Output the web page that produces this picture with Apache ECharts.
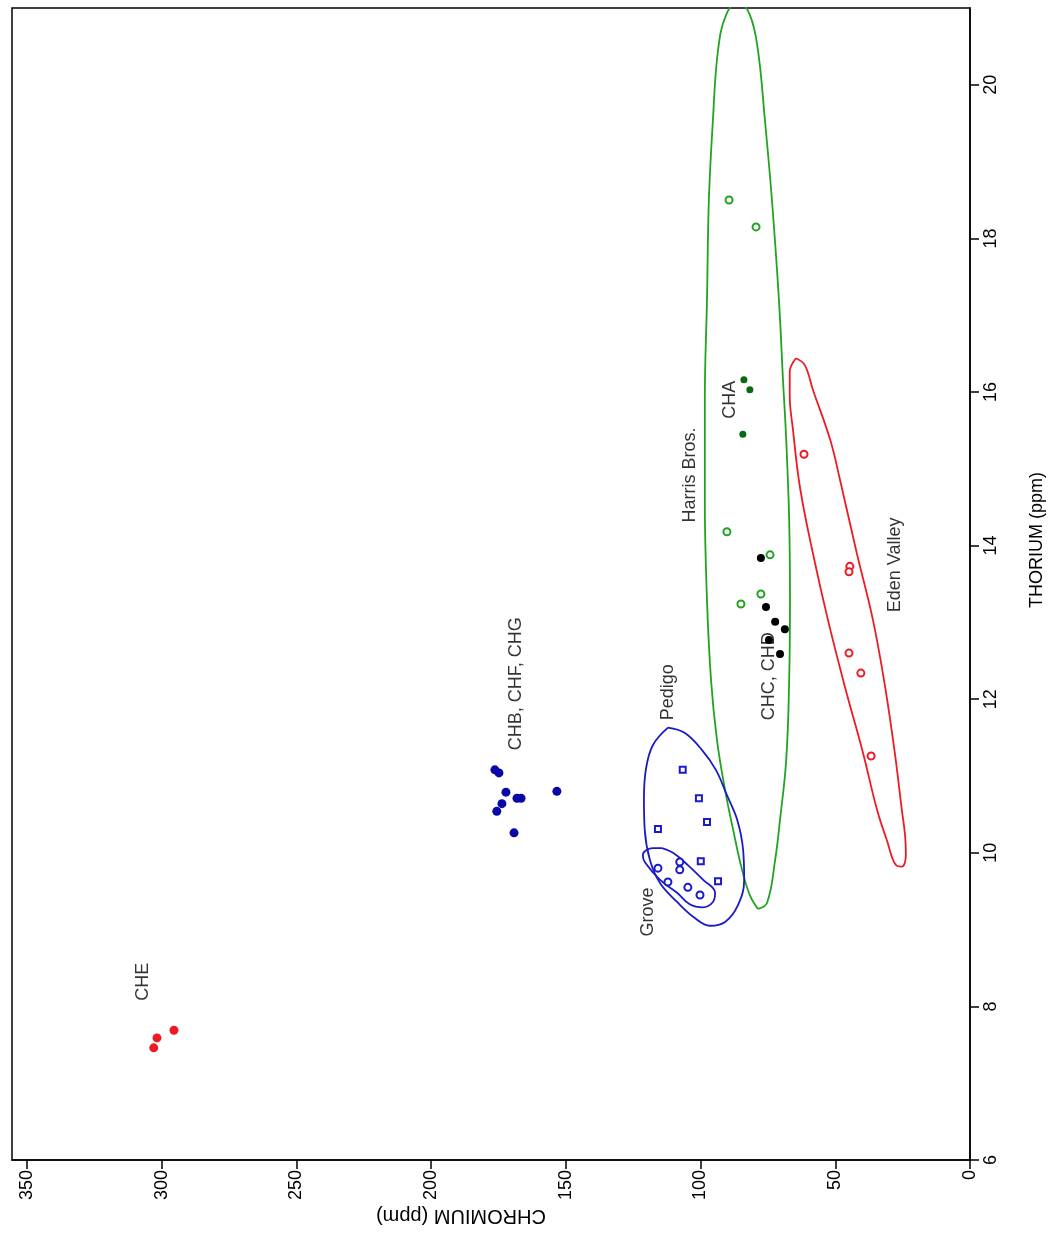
<!DOCTYPE html>
<html>
<head>
<meta charset="utf-8">
<script src="https://cdn.jsdelivr.net/npm/echarts@6/dist/echarts.min.js"></script>
<style>
html,body{margin:0;padding:0;background:#fff;}
#c{width:1050px;height:1234px;}
</style>
</head>
<body>
<div id="c"></div>
<script>
// ---- Data: [chromium ppm, thorium ppm] ----
const CHE = [[295.4,7.69],[301.7,7.59],[302.9,7.46]];
const CHB_CHF_CHG = [[176.3,11.08],[174.8,11.04],[172.2,10.79],[168.1,10.71],[166.6,10.71],[153.3,10.80],[173.7,10.64],[175.6,10.54],[169.2,10.26]];
const CHA = [[83.9,16.16],[81.7,16.03],[84.3,15.45]];
const HARRIS_BROS = [[89.4,18.50],[79.4,18.15],[90.2,14.18],[74.2,13.88],[85.0,13.24],[77.6,13.37]];
const CHC_CHD = [[77.6,13.84],[75.7,13.20],[72.3,13.01],[68.7,12.91],[74.6,12.77],[70.5,12.59]];
const EDEN_VALLEY = [[61.6,15.19],[44.6,13.73],[44.9,13.66],[44.9,12.60],[40.5,12.34],[36.7,11.26]];
const PEDIGO = [[106.6,11.08],[100.6,10.71],[97.6,10.40],[115.8,10.31],[99.9,9.89],[93.5,9.63]];
const GROVE = [[115.8,9.80],[107.7,9.88],[107.7,9.78],[112.1,9.62],[104.7,9.55],[100.2,9.45]];

// ellipse outlines
const HARRIS_OUTLINE = [[78.7,9.27],[75.3,9.35],[72.3,9.91],[70.5,10.43],[68.2,11.21],[67.1,12.25],[66.8,13.29],[67.1,14.33],[68.2,15.38],[69.4,16.16],[70.9,17.20],[73.5,18.50],[76.1,19.54],[78.7,20.45],[81.7,20.91],[86.1,21.08],[90.5,20.91],[93.5,20.45],[95.4,19.54],[96.9,18.50],[97.6,17.20],[98.4,15.90],[98.4,14.59],[97.6,13.29],[96.1,12.25],[93.9,11.47],[90.9,10.82],[87.9,10.30],[84.6,9.78],[81.7,9.45],[78.7,9.27]];
const PEDIGO_OUTLINE = [[112.1,11.63],[105.8,11.56],[99.5,11.34],[94.3,11.08],[90.2,10.75],[86.4,10.43],[84.2,10.04],[83.8,9.65],[86.1,9.32],[90.9,9.10],[96.5,9.05],[102.1,9.15],[108.7,9.36],[115.1,9.61],[118.8,9.91],[120.7,10.30],[121.0,10.69],[120.3,11.08],[117.7,11.40],[112.1,11.63]];
const GROVE_OUTLINE = [[114.3,10.06],[110.2,10.00],[104.7,9.84],[99.1,9.65],[94.6,9.48],[95.4,9.36],[99.1,9.29],[104.0,9.33],[108.7,9.48],[115.1,9.65],[120.7,9.88],[121.4,9.97],[117.7,10.06],[114.3,10.06]];
const EDEN_OUTLINE = [[64.6,16.44],[61.3,16.35],[58.3,16.03],[51.9,15.38],[48.2,14.85],[42.0,13.90],[36.0,13.03],[31.5,12.16],[27.9,11.30],[25.3,10.56],[24.1,10.23],[23.8,9.97],[25.3,9.82],[27.5,9.84],[30.9,10.17],[34.5,10.56],[39.7,11.30],[46.4,12.16],[52.7,13.03],[58.3,13.90],[63.1,14.76],[65.7,15.51],[66.9,15.96],[66.9,16.26],[64.6,16.44]];

// annotation labels [chromium, thorium, text]
const LABELS = [[307.0,8.32,'CHE'],[168.5,12.20,'CHB, CHF, CHG'],[112.1,12.09,'Pedigo'],[119.5,9.23,'Grove'],[104.0,14.92,'Harris Bros.'],[89.0,15.90,'CHA'],[74.6,12.30,'CHC, CHD'],[27.9,13.75,'Eden Valley']];

const X_TICKS = [0,50,100,150,200,250,300,350];
const Y_TICKS = [6,8,10,12,14,16,18,20];

const RED = '#ec1c24', BLUE = '#1a1ac8', DBLUE = '#0808a8', GREEN = '#22a322', DGREEN = '#0a6a12';
const FONT = '"Liberation Sans", Arial, sans-serif';

const chart = echarts.init(document.getElementById('c'), null, {renderer:'canvas'});

function outline(data, color) {
  return {type:'line', data:data, showSymbol:false, symbol:'none', smooth:0.4,
    lineStyle:{color:color, width:1.8}, z:2, silent:true, clip:true};
}
function pts(data, symbol, size, color, filled) {
  return {type:'scatter', data:data, symbol:symbol, symbolSize:size, z:3,
    itemStyle: filled ? {color:color, opacity:1} : {color:color, borderColor:color, borderWidth:1.6, opacity:1}};
}

chart.setOption({
  animation:false,
  backgroundColor:'#fff',
  grid:{left:12, right:80, top:8, bottom:74, show:true, borderColor:'#000', borderWidth:1.5, backgroundColor:'transparent'},
  xAxis:{type:'value', inverse:true, min:0, max:355.5, interval:50,
    axisLine:{show:true, onZero:false, lineStyle:{color:'#000', width:1.5}},
    axisTick:{show:true, inside:false, length:9, lineStyle:{color:'#000', width:1.5}},
    axisLabel:{rotate:90, margin:10, fontSize:18, color:'#000', fontFamily:FONT, showMaxLabel:false,
      formatter:v => X_TICKS.indexOf(v) >= 0 ? String(v) : ''},
    splitLine:{show:false}},
  yAxis:{type:'value', position:'right', min:6, max:21, interval:2,
    axisLine:{show:true, onZero:false, lineStyle:{color:'#000', width:1.5}},
    axisTick:{show:true, inside:false, length:9, lineStyle:{color:'#000', width:1.5}},
    axisLabel:{rotate:90, margin:12, fontSize:18, color:'#000', fontFamily:FONT, showMaxLabel:false,
      formatter:v => Y_TICKS.indexOf(v) >= 0 ? String(v) : ''},
    splitLine:{show:false}},
  graphic:[
    {type:'text', x:461, y:1216, rotation:Math.PI, style:{text:'CHROMIUM (ppm)', fontSize:20, fontFamily:FONT, fill:'#000', align:'center', verticalAlign:'middle'}},
    {type:'text', x:1037, y:540, rotation:Math.PI/2, style:{text:'THORIUM (ppm)', fontSize:18, fontFamily:FONT, fill:'#000', align:'center', verticalAlign:'middle'}}
  ],
  series:[
    outline(HARRIS_OUTLINE, GREEN),
    outline(PEDIGO_OUTLINE, BLUE),
    outline(GROVE_OUTLINE, BLUE),
    outline(EDEN_OUTLINE, RED),
    pts(CHE, 'circle', 9, RED, true),
    pts(CHB_CHF_CHG, 'circle', 9, DBLUE, true),
    pts(CHA, 'circle', 7, DGREEN, true),
    pts(CHC_CHD, 'circle', 8, '#000', true),
    pts(HARRIS_BROS, 'emptyCircle', 7, GREEN, false),
    pts(EDEN_VALLEY, 'emptyCircle', 7, RED, false),
    pts(PEDIGO, 'emptyRect', 6, BLUE, false),
    pts(GROVE, 'emptyCircle', 7, BLUE, false),
    {type:'scatter', data:LABELS, symbolSize:1, itemStyle:{color:'rgba(0,0,0,0)'}, z:4,
      label:{show:true, position:'inside', rotate:90, fontSize:18, fontFamily:FONT, color:'#000',
        align:'center', verticalAlign:'middle', formatter:p => p.value[2]}}
  ]
});
</script>
</body>
</html>
